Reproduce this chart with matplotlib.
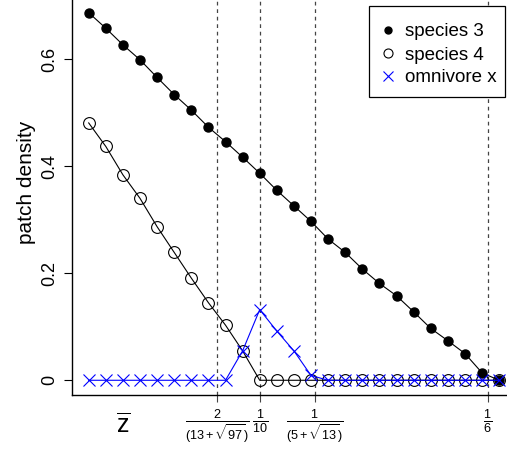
import matplotlib
matplotlib.use('Agg')
import matplotlib.pyplot as plt
import matplotlib.transforms as mtransforms
from matplotlib.patches import Rectangle
from matplotlib.lines import Line2D
import numpy as np

plt.rcParams['font.family'] = ['Liberation Sans', 'DejaVu Sans']
plt.rcParams['mathtext.fontset'] = 'custom'
plt.rcParams['mathtext.rm'] = 'Liberation Sans'
plt.rcParams['mathtext.it'] = 'Liberation Sans:italic'
plt.rcParams['mathtext.bf'] = 'Liberation Sans:bold'

# mortality rate z and patch densities
z = [0.050, 0.055, 0.060, 0.065, 0.070, 0.075, 0.080, 0.085, 0.090, 0.095,
     0.100, 0.105, 0.110, 0.115, 0.120, 0.125, 0.130, 0.135, 0.140, 0.145,
     0.150, 0.155, 0.160, 0.165, 0.170]
species3 = [0.687, 0.658, 0.627, 0.599, 0.566, 0.534, 0.505, 0.473, 0.446, 0.417,
            0.387, 0.355, 0.326, 0.297, 0.264, 0.239, 0.208, 0.181, 0.158, 0.128,
            0.097, 0.074, 0.050, 0.014, 0.0]
species4 = [0.481, 0.437, 0.384, 0.340, 0.287, 0.239, 0.191, 0.145, 0.103, 0.055,
            0.0, 0.0, 0.0, 0.0, 0.0, 0.0, 0.0, 0.0, 0.0, 0.0,
            0.0, 0.0, 0.0, 0.0, 0.0]
omnivore = [0.0, 0.0, 0.0, 0.0, 0.0, 0.0, 0.0, 0.0, 0.0, 0.055,
            0.132, 0.092, 0.055, 0.009, 0.0, 0.0, 0.0, 0.0, 0.0, 0.0,
            0.0, 0.0, 0.0, 0.0, 0.0]

# critical values of z
z_crit = [2 / (13 + np.sqrt(97)), 1 / 10, 1 / (5 + np.sqrt(13)), 1 / 6]
z_crit_labels = [r'$\frac{2}{(13+\sqrt{97})}$', r'$\frac{1}{10}$',
                 r'$\frac{1}{(5+\sqrt{13})}$', r'$\frac{1}{6}$']
y_ticks = [0, 0.2, 0.4, 0.6]
y_tick_labels = ['0', '0.2', '0.4', '0.6']
legend_labels = ['species 3', 'species 4', 'omnivore x']

W, H = 507, 451
fig = plt.figure(figsize=(W / 100, H / 100), dpi=100)
ax = fig.add_axes([0.1426, 0.1242, 0.8742, 0.8814])

for zc in z_crit:
    ax.axvline(zc, color='#444444', linestyle=(0, (3, 3)), linewidth=0.9, zorder=1)

ax.plot(z, species3, color='black', linewidth=0.8, marker='o', markersize=6.5,
        markerfacecolor='black', markeredgecolor='black', zorder=3)
ax.plot(z, species4, color='black', linewidth=0.8, marker='o', markersize=8.5,
        markerfacecolor='none', markeredgecolor='black', markeredgewidth=0.8,
        zorder=3)
ax.plot(z, omnivore, color='blue', linewidth=0.8, marker='x', markersize=8.5,
        markeredgewidth=0.8, zorder=4)

ax.set_xlim(0.0452, 0.1748)
ax.set_ylim(-0.0275, 0.7155)

ax.set_yticks(y_ticks)
ax.set_yticklabels(y_tick_labels, rotation=90, va='center', fontsize=13)
ax.set_xticks(z_crit)
ax.set_xticklabels(z_crit_labels, fontsize=13)
ax.tick_params(axis='y', length=6, width=0.8, pad=4)
ax.tick_params(axis='x', length=5, width=0.8, pad=4, color='#444444')
for s in ax.spines.values():
    s.set_linewidth(1.0)

ax.set_ylabel('patch density', fontsize=15)
ax.yaxis.set_label_coords(-0.081, 0.536)

trans = mtransforms.blended_transform_factory(ax.transData, ax.transAxes)
ax.text(0.06, -0.075, r'$\overline{\mathrm{z}}$', transform=trans,
        fontsize=18, ha='center', va='center')

# legend box drawn by hand (pixel positions in the figure)
def fpos(px, py):
    return px / W, 1 - py / H

x0, y0 = fpos(369, 97)
x1, y1 = fpos(505, 6.5)
fig.add_artist(Rectangle((x0, y0), x1 - x0, y1 - y0, transform=fig.transFigure,
                         facecolor='white', edgecolor='black', linewidth=0.9, zorder=5))
legend_styles = [
    dict(marker='o', markersize=5, markerfacecolor='black', markeredgecolor='black'),
    dict(marker='o', markersize=6.5, markerfacecolor='none', markeredgecolor='black',
         markeredgewidth=0.8),
    dict(marker='x', markersize=6.5, color='blue', markeredgewidth=0.8),
]
for i, (lab, sty) in enumerate(zip(legend_labels, legend_styles)):
    mx, my = fpos(388, 30 + 23 * i)
    fig.add_artist(Line2D([mx], [my], transform=fig.transFigure, linestyle='none',
                          zorder=6, **sty))
    tx, ty = fpos(405, 30 + 23 * i)
    fig.text(tx, ty, lab, fontsize=13.5, ha='left', va='center_baseline', zorder=6)

fig.savefig('out.png', dpi=100)
